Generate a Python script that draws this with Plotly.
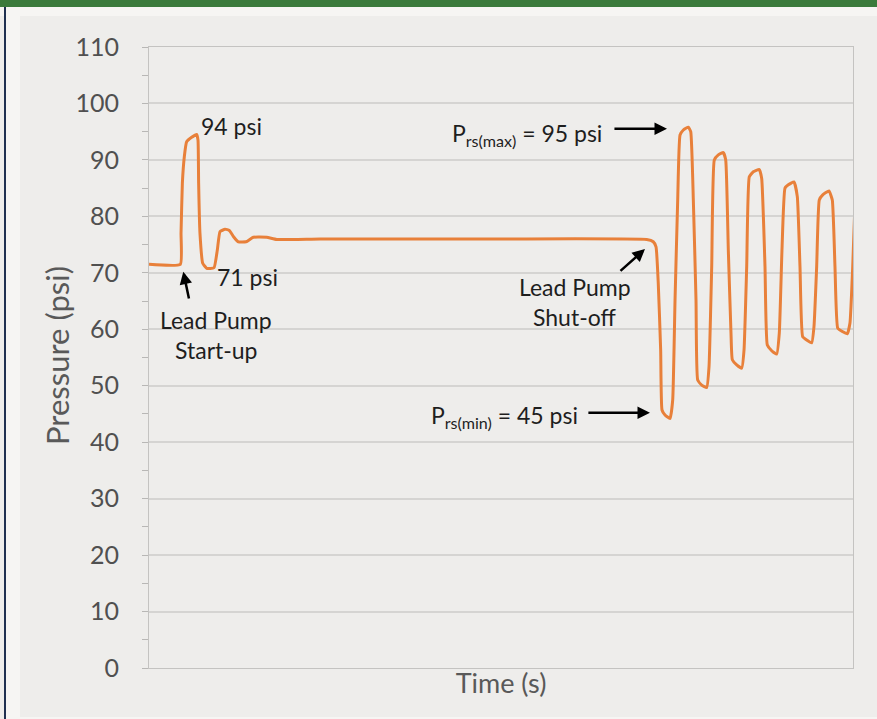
import plotly.graph_objects as go

# ---------------- data ----------------
time_s = [0.0, 4.45, 4.55, 4.74, 5.02, 5.35, 6.06, 6.77, 6.96, 7.05, 7.24, 7.63, 8.20, 9.23,
          9.70, 10.09, 10.80, 11.41, 12.07, 12.69, 13.78, 14.82, 16.71, 18.14, 24.3, 50.0,
          70.69, 71.63, 72.02, 72.34, 72.68, 72.87, 73.30, 74.01, 74.39, 74.72, 75.10, 75.43,
          75.90, 76.61, 76.95, 77.32, 77.70, 77.94, 78.51, 79.22, 79.55, 79.93, 80.30, 80.87,
          81.58, 81.92, 82.29, 82.67, 82.86, 83.48, 84.19, 84.52, 84.90, 85.27, 85.84, 86.69,
          87.03, 87.50, 87.83, 88.45, 89.16, 89.53, 89.91, 90.34, 90.81, 91.62, 92.09, 92.47,
          92.85, 93.42, 94.13, 94.46, 94.84, 95.21, 95.70, 96.59, 97.06, 97.44, 97.83, 98.48,
          99.19, 99.57, 99.96, 100.28]
pressure_psi = [71.5, 71.5, 77.0, 85.9, 90.6, 93.2, 94.0, 94.5, 93.5, 85.9, 77.0, 71.7, 70.8, 70.9,
                74.0, 77.3, 77.7, 77.5, 76.3, 75.5, 75.5, 76.3, 76.3, 75.9, 76.0, 76.0,
                75.9, 75.5, 74.6, 68.1, 56.3, 45.7, 44.8, 44.2, 47.5, 65.2, 82.9, 94.4,
                95.3, 95.8, 95.0, 82.9, 65.2, 51.0, 50.1, 49.7, 53.4, 71.1, 90.0, 90.9,
                91.3, 90.0, 74.0, 59.3, 54.6, 53.7, 53.1, 56.3, 71.1, 87.0, 87.9, 88.3,
                86.7, 71.1, 57.2, 56.2, 55.6, 59.3, 74.0, 85.0, 85.6, 86.1, 83.5, 71.1,
                58.7, 58.1, 57.6, 60.5, 71.1, 82.9, 83.8, 84.5, 82.9, 71.1, 60.2, 59.6,
                59.2, 61.1, 71.1, 82.3]

y_ticks = [0, 10, 20, 30, 40, 50, 60, 70, 80, 90, 100, 110]
y_title = "Pressure (psi)"
x_title = "Time (s)"

# ---------------- style ----------------
W, H = 877, 719
L, R, T, B = 149, 24, 47, 51
FONT = "Lato"
LINE_COLOR = "#E8803A"
TEXT_DARK = "#1e1e1e"
TEXT_GRAY = "#595959"
INNER_BG = "#eeedeb"
OUTER_BG = "#f6f5f3"

pw, ph = W - L - R, H - T - B


def px(x):
    return (x - L) / pw


def py(y):
    return (H - B - y) / ph


fig = go.Figure()
fig.add_trace(go.Scatter(x=time_s, y=pressure_psi, mode="lines",
                         line=dict(color=LINE_COLOR, width=3, shape="spline", smoothing=0.4),
                         hoverinfo="skip", showlegend=False))

shapes = [
    dict(type="rect", xref="paper", yref="paper", x0=px(0), x1=px(W), y0=py(16), y1=py(7),
         fillcolor=OUTER_BG, line_width=0, layer="below"),
    dict(type="rect", xref="paper", yref="paper", x0=px(5), x1=px(20), y0=py(H), y1=py(7),
         fillcolor=OUTER_BG, line_width=0, layer="below"),
    dict(type="rect", xref="paper", yref="paper", x0=px(5), x1=px(W), y0=py(H), y1=py(717),
         fillcolor=OUTER_BG, line_width=0, layer="below"),
    dict(type="rect", xref="paper", yref="paper", x0=px(0), x1=px(W), y0=py(7), y1=py(0),
         fillcolor="#3b7a3b", line_width=0, layer="below"),
    dict(type="rect", xref="paper", yref="paper", x0=px(4), x1=px(6), y0=py(H), y1=py(7),
         fillcolor="#1f3050", line_width=0, layer="below"),
]

ann_font = dict(family=FONT, size=23, color=TEXT_DARK)


def label(text, x, y):
    return dict(text=text, x=x, y=y, xref="x", yref="y", showarrow=False,
                xanchor="center", yanchor="middle", font=ann_font)


def arrow(x0, y0, x1, y1):
    return dict(text="", x=x1, y=y1, ax=x0, ay=y0, xref="x", yref="y", axref="x", ayref="y",
                showarrow=True, arrowhead=2, arrowsize=1, arrowwidth=2.5,
                arrowcolor="#000000", standoff=0, startstandoff=0)


annotations = [
    label("94 psi", 11.65, 96.0),
    label("71 psi", 13.92, 69.3),
    label("Lead Pump", 9.52, 61.6),
    label("Start-up", 9.52, 56.3),
    arrow(5.72, 65.2, 4.87, 70.2),
    label("Lead Pump", 60.51, 67.5),
    label("Shut-off", 60.51, 62.2),
    arrow(66.76, 70.1, 70.45, 74.2),
    label("P<sub>rs(max)</sub> = 95 psi", 53.76, 94.5),
    arrow(65.9, 95.5, 73.58, 95.5),
    label("P<sub>rs(min)</sub> = 45 psi", 50.5, 44.5),
    arrow(62.2, 45.2, 71.16, 45.2),
    # y-axis title
    dict(text=y_title, x=px(57), y=py(356), xref="paper", yref="paper", showarrow=False,
         xanchor="center", yanchor="middle", textangle=-90,
         font=dict(family=FONT, size=31, color=TEXT_GRAY)),
]

fig.update_layout(
    width=W, height=H,
    margin=dict(l=L, r=R, t=T, b=B, autoexpand=False),
    paper_bgcolor=INNER_BG, plot_bgcolor=INNER_BG,
    font=dict(family=FONT, color=TEXT_GRAY),
    shapes=shapes, annotations=annotations,
    xaxis=dict(range=[0, 100], showticklabels=False, ticks="", showgrid=False,
               zeroline=False, showline=True, mirror=True, linecolor="#c4c3c1", linewidth=1,
               title=dict(text=x_title, font=dict(family=FONT, size=27, color=TEXT_GRAY),
                          standoff=6), automargin=False),
    yaxis=dict(range=[0, 110], tickvals=y_ticks, ticktext=[str(v) for v in y_ticks],
               ticks="outside", ticklen=6, tickcolor="#b8b7b5", tickwidth=1,
               tickfont=dict(family=FONT, size=25, color="#505050"),
               ticklabelstandoff=18,
               minor=dict(ticks="outside", ticklen=6, dtick=5, tickcolor="#b8b7b5",
                          showgrid=False),
               showgrid=True, gridcolor="#d5d4d2", gridwidth=1.5,
               zeroline=False, showline=True, mirror=True, linecolor="#c4c3c1", linewidth=1,
               automargin=False),
)

fig.write_html("out.html", config={"displayModeBar": False},
               post_script="document.body.style.margin='0';document.body.style.padding='0';")
